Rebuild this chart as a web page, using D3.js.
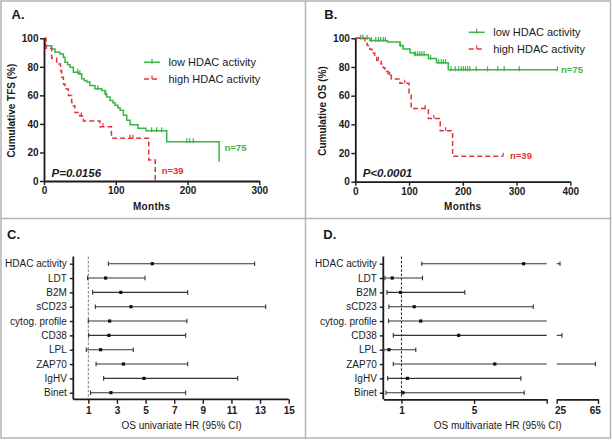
<!DOCTYPE html>
<html>
<head>
<meta charset="utf-8">
<script src="https://cdn.jsdelivr.net/npm/d3@7"></script>
<style>
  body { margin: 0; background: #fff; }
  svg { display: block; font-family: "Liberation Sans", Arial, sans-serif; }
</style>
</head>
<body>
<svg width="612" height="440"></svg>
<script>
// ---- A: time to first treatment (months, % still untreated)
let tfsLowT = [0, 1.5, 10.7, 15.3, 22.3, 27, 29.3, 33, 36.2, 40.9, 47.8, 52.5, 56, 59.5, 64, 71, 80.3, 85, 87.3, 92, 96, 99, 103, 106, 110.6, 115.3, 120, 131, 142, 171, 244];
let tfsLowS = [100, 94.7, 92.5, 90.2, 89, 86.7, 83.2, 81.5, 79.7, 76.2, 75.1, 71.6, 70.5, 69.3, 66.9, 64.6, 63.4, 61.1, 58.8, 56.5, 54.8, 53, 51.3, 49.5, 46, 42.5, 39.5, 37, 35.3, 27.5, 13.5];
let tfsLowCens = [47, 50, 75, 86, 150, 157, 164, 199, 203, 208];
let tfsLowEnd = 244;

let tfsHighT = [0, 3, 10.7, 17.6, 23, 24.6, 27, 29.3, 34, 38.5, 41, 43, 50, 55, 78, 94, 146, 155];
let tfsHighS = [100, 93, 86, 82, 77.3, 72.7, 68, 64.5, 60, 55, 52.8, 48, 45.5, 42, 38, 30, 14.7, 0];
let tfsHighCens = [52, 82, 120, 124];
let tfsHighEnd = 155;

// ---- B: overall survival
let osLowT = [0, 27, 60, 83, 89, 102, 110, 136, 151, 173];
let osLowS = [100, 98.5, 97.5, 95, 92.5, 90, 88.5, 86, 83, 78];
let osLowCens = [10, 14, 22, 30, 38, 43, 47, 52, 56, 84, 112, 116, 120, 124, 128, 140, 155, 160, 164, 168,
                 178, 186, 192, 197, 201, 205, 209, 213, 225, 246, 265, 277, 305, 376];
let osLowEnd = 376;

let osHighT = [0, 18, 22, 27, 31, 36, 40, 48, 52, 55, 61, 67, 83, 100, 104, 136, 158, 181];
let osHighS = [100, 97.4, 94.9, 92.3, 89.7, 87.1, 84.6, 82, 79.4, 76.8, 74.2, 71.7, 68.6, 60.5, 51, 44, 35.5, 17.7];
let osHighCens = [43, 64, 92, 130, 146, 168, 275];
let osHighEnd = 275;

// ---- C / D: hazard ratios
let factors = ["HDAC activity", "LDT", "B2M", "sCD23", "cytog. profile", "CD38", "LPL", "ZAP70", "IgHV", "Binet"];
let uniHR = [5.47, 2.21, 3.27, 3.98, 2.49, 2.44, 1.86, 3.45, 4.89, 2.58];
let uniLo = [2.40, 0.95, 1.30, 1.49, 1.00, 1.02, 0.86, 1.54, 2.07, 1.16];
let uniHi = [12.62, 4.96, 7.94, 13.39, 7.89, 7.80, 4.14, 7.94, 11.44, 7.80];

let multiHR = [7.73, 0.49, 0.95, 1.70, 2.06, 4.15, 0.31, 6.14, 1.33, 1.08];
let multiLo = [2.12, 0.09, 0.20, 0.31, 0.29, 0.55, 0.02, 0.55, 0.24, 0.15];
let multiHi = [25, 2.16, 4.49, 8.26, 15, 27.3, 1.79, 65.8, 7.58, 7.76];

let green = "#3bb44a";
let red = "#e3323b";
let ink = "#1a1a1a";

let svg = d3.select("svg");

// panel frames
let frame = svg.append("g").attr("fill", "none").attr("stroke", "#b3b3b3").attr("stroke-width", 1.5);
frame.append("rect").attr("x", 1).attr("y", 1).attr("width", 609.5).attr("height", 437);
frame.append("line").attr("x1", 305.5).attr("x2", 305.5).attr("y1", 1).attr("y2", 438);
frame.append("line").attr("x1", 1).attr("x2", 610.5).attr("y1", 218.5).attr("y2", 218.5);

function styleAxis(ax, bold) {
  ax.select(".domain").attr("stroke", ink).attr("stroke-width", 1.8);
  ax.selectAll(".tick line").attr("stroke", ink).attr("stroke-width", 1.4);
  ax.selectAll(".tick text")
    .attr("fill", ink)
    .style("font-size", "10px")
    .style("font-weight", bold ? "bold" : "normal");
}

function survAt(T, S, t) {
  let s = S[0];
  for (let i = 0; i < T.length; i++) if (T[i] <= t) s = S[i];
  return s;
}

function kmPanel(o) {
  let g = svg.append("g");
  let x = d3.scaleLinear().domain([0, o.xMax]).range(o.xr);
  let y = d3.scaleLinear().domain([0, 100]).range(o.yr);

  let line = d3.line()
    .x(d => x(d[0]))
    .y(d => y(d[1]))
    .curve(d3.curveStepAfter);

  o.series.forEach(s => {
    let pts = s.t.map((t, i) => [t, s.s[i]]);
    if (s.end > s.t[s.t.length - 1]) pts.push([s.end, s.s[s.s.length - 1]]);
    g.append("path")
      .datum(pts)
      .attr("d", line)
      .attr("fill", "none")
      .attr("stroke", s.color)
      .attr("stroke-width", 1.5)
      .attr("stroke-dasharray", s.dash ? "5,3" : null);
    g.append("g")
      .selectAll("line")
      .data(s.cens)
      .enter()
      .append("line")
      .attr("x1", d => x(d))
      .attr("x2", d => x(d))
      .attr("y1", d => y(survAt(s.t, s.s, d)) - 3.5)
      .attr("y2", d => y(survAt(s.t, s.s, d)) + (s.dash ? 0 : 1.5))
      .attr("stroke", s.color)
      .attr("stroke-width", 1.2);
  });

  let yAx = g.append("g")
    .attr("transform", `translate(${o.xr[0]},0)`)
    .call(d3.axisLeft(y).tickValues([0, 20, 40, 60, 80, 100]).tickSize(4).tickPadding(1.5).tickSizeOuter(0));
  styleAxis(yAx, true);
  let xAx = g.append("g")
    .attr("transform", `translate(0,${o.yr[0]})`)
    .call(d3.axisBottom(x).tickValues(o.xTicks).tickSize(4).tickPadding(2).tickSizeOuter(0));
  styleAxis(xAx, true);

  g.append("text")
    .attr("transform", `translate(${o.yTitleX},${(o.yr[0] + o.yr[1]) / 2 + 1}) rotate(-90)`)
    .attr("text-anchor", "middle")
    .attr("fill", ink)
    .style("font-size", "10px")
    .style("font-weight", "bold")
    .text(o.yTitle);
  g.append("text")
    .attr("x", (o.xr[0] + o.xr[1]) / 2)
    .attr("y", 209.5)
    .attr("text-anchor", "middle")
    .attr("fill", ink)
    .style("font-size", "10px")
    .style("font-weight", "bold")
    .style("letter-spacing", "0.3px")
    .text("Months");

  // legend
  o.series.forEach((s, i) => {
    let ly = o.legY + i * 16.7;
    g.append("line")
      .attr("x1", o.legX).attr("x2", o.legX + 16)
      .attr("y1", ly).attr("y2", ly)
      .attr("stroke", s.color).attr("stroke-width", 1.5)
      .attr("stroke-dasharray", s.dash ? "5,3" : null);
    g.append("line")
      .attr("x1", o.legX + 8).attr("x2", o.legX + 8)
      .attr("y1", ly - 3.5).attr("y2", ly + (s.dash ? 0 : 1.5))
      .attr("stroke", s.color).attr("stroke-width", 1.2);
    g.append("text")
      .attr("x", o.legX + 24.5)
      .attr("y", ly + 3.6)
      .attr("fill", ink)
      .style("font-size", "11px")
      .text(s.name);
    g.append("text")
      .attr("x", s.nPos[0])
      .attr("y", s.nPos[1])
      .attr("fill", s.color)
      .style("font-size", "9.5px")
      .style("font-weight", "bold")
      .text(s.n);
  });

  g.append("text")
    .attr("x", o.pPos[0])
    .attr("y", o.pPos[1])
    .attr("fill", ink)
    .style("font-size", "11.5px")
    .style("font-weight", "bold")
    .style("font-style", "italic")
    .text(o.pText);

  g.append("text")
    .attr("x", o.label[0])
    .attr("y", o.label[1])
    .attr("fill", ink)
    .style("font-size", "13px")
    .style("font-weight", "bold")
    .text(o.label[2]);
}

kmPanel({
  xMax: 300, xr: [44, 259.3], yr: [181, 38.3], xTicks: [0, 100, 200, 300],
  yTitle: "Cumulative TFS (%)", yTitleX: 14.5,
  legX: 144, legY: 62.3,
  pText: "P=0.0156", pPos: [51.5, 176.7],
  label: [11.5, 18.5, "A."],
  series: [
    { name: "low HDAC activity", t: tfsLowT, s: tfsLowS, cens: tfsLowCens, end: tfsLowEnd,
      color: green, dash: false, n: "n=75", nPos: [224.5, 150.7] },
    { name: "high HDAC activity", t: tfsHighT, s: tfsHighS, cens: tfsHighCens, end: tfsHighEnd,
      color: red, dash: true, n: "n=39", nPos: [161.7, 174.3] }
  ]
});

kmPanel({
  xMax: 400, xr: [355.3, 570.3], yr: [181.7, 38.3], xTicks: [0, 100, 200, 300, 400],
  yTitle: "Cumulative OS (%)", yTitleX: 326,
  legX: 468.7, legY: 32.3,
  pText: "P<0.0001", pPos: [362.7, 176.7],
  label: [324.3, 18.5, "B."],
  series: [
    { name: "low HDAC activity", t: osLowT, s: osLowS, cens: osLowCens, end: osLowEnd,
      color: green, dash: false, n: "n=75", nPos: [561, 72.7] },
    { name: "high HDAC activity", t: osHighT, s: osHighS, cens: osHighCens, end: osHighEnd,
      color: red, dash: true, n: "n=39", nPos: [510, 159.3] }
  ]
});

// ---- forest plots
function forestFrame(g, axisX, label, title, titleX) {
  let y = d3.scalePoint().domain(factors).range([263.7, 392.7]);
  let yAx = g.append("g")
    .attr("transform", `translate(${axisX},0)`)
    .call(d3.axisLeft(y).tickSize(3.5).tickPadding(3).tickSizeOuter(0));
  yAx.select(".domain").remove();
  yAx.append("line")
    .attr("x1", 0).attr("x2", 0).attr("y1", 256.5).attr("y2", 399.3)
    .attr("stroke", ink).attr("stroke-width", 1.8);
  styleAxis(yAx, false);
  g.append("text")
    .attr("x", titleX)
    .attr("y", 429.3)
    .attr("text-anchor", "middle")
    .attr("fill", ink)
    .style("font-size", "10px")
    .text(title);
  g.append("text")
    .attr("x", label[0])
    .attr("y", label[1])
    .attr("fill", ink)
    .style("font-size", "13px")
    .style("font-weight", "bold")
    .text(label[2]);
  return y;
}

function whisker(g, y0, x1, x2, capL, capR) {
  g.append("line").attr("x1", x1).attr("x2", x2).attr("y1", y0).attr("y2", y0)
    .attr("stroke", "#333").attr("stroke-width", 1.1);
  if (capL) g.append("line").attr("x1", x1).attr("x2", x1).attr("y1", y0 - 2.3).attr("y2", y0 + 2.3)
    .attr("stroke", "#333").attr("stroke-width", 1.1);
  if (capR) g.append("line").attr("x1", x2).attr("x2", x2).attr("y1", y0 - 2.3).attr("y2", y0 + 2.3)
    .attr("stroke", "#333").attr("stroke-width", 1.1);
}

function dot(g, cx, cy) {
  g.append("rect").attr("x", cx - 1.6).attr("y", cy - 1.6).attr("width", 3.2).attr("height", 3.2).attr("fill", "#111");
}

// C: univariate
let gC = svg.append("g");
let xC = d3.scaleLinear().domain([0, 15]).range([74, 288.7]);
let yC = forestFrame(gC, 73.3, [7, 239.3, "C."], "OS univariate HR (95% CI)", 181.5);
let xCAx = gC.append("g")
  .attr("transform", "translate(0,399.3)")
  .call(d3.axisBottom(xC).tickValues([1, 3, 5, 7, 9, 11, 13, 15]).tickSize(4.5).tickPadding(3).tickSizeOuter(0));
styleAxis(xCAx, true);
xCAx.select(".domain").attr("d", `M73.3,0H${xC(15)}`);
gC.append("line")
  .attr("x1", xC(1)).attr("x2", xC(1)).attr("y1", 256.5).attr("y2", 398)
  .attr("stroke", "#777").attr("stroke-width", 1).attr("stroke-dasharray", "2.5,1.8");
factors.forEach((f, i) => {
  let cy = yC(f);
  whisker(gC, cy, xC(uniLo[i]), xC(uniHi[i]), true, true);
  dot(gC, xC(uniHR[i]), cy);
});

// D: multivariate, broken axis
let gD = svg.append("g");
let xD1 = d3.scaleLinear().domain([0, 9]).range([383.3, 546.7]);
let xD2 = d3.scaleLinear().domain([21.2, 68.8]).range([556.7, 598]);
let yD = forestFrame(gD, 383.3, [323.3, 239.3, "D."], "OS multivariate HR (95% CI)", 497.7);

let seg1 = gD.append("g")
  .attr("transform", "translate(0,399.3)")
  .call(d3.axisBottom(xD1).tickValues([1, 5, 9]).tickFormat(d => d === 9 ? "" : d)
    .tickSize(4.5).tickPadding(3).tickSizeOuter(0));
styleAxis(seg1, true);
let seg2 = gD.append("g")
  .attr("transform", "translate(0,399.3)")
  .call(d3.axisBottom(xD2).tickValues(xD2.domain()).tickFormat("").tickSize(4.5).tickSizeOuter(0));
styleAxis(seg2, true);
let seg2Lab = gD.append("g")
  .attr("transform", "translate(0,399.3)")
  .call(d3.axisBottom(xD2).tickValues([25, 65]).tickSize(0).tickPadding(7.5));
seg2Lab.select(".domain").remove();
styleAxis(seg2Lab, true);

gD.append("line")
  .attr("x1", xD1(1)).attr("x2", xD1(1)).attr("y1", 256.5).attr("y2", 398)
  .attr("stroke", "#222").attr("stroke-width", 1).attr("stroke-dasharray", "2.5,1.8");

let cut1 = xD1.domain()[1], cut2 = xD2.domain()[0];
factors.forEach((f, i) => {
  let cy = yD(f);
  let lo = multiLo[i], hi = multiHi[i];
  whisker(gD, cy, xD1(lo), xD1(Math.min(hi, cut1)), true, hi <= cut1);
  if (hi > cut2) whisker(gD, cy, xD2(cut2), xD2(hi), false, true);
  dot(gD, xD1(multiHR[i]), cy);
});
</script>
</body>
</html>
